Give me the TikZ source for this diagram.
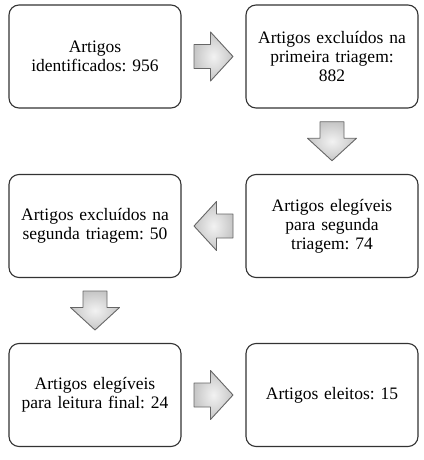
\documentclass[tikz,border=0pt]{standalone}
\usepackage{fontspec}
\setmainfont{Liberation Serif}
\usetikzlibrary{calc}
\frenchspacing
\tikzset{
  box/.style={draw=black!80, line width=1.1pt, rounded corners=10pt, fill=white,
    minimum width=172pt, minimum height=103pt, text width=160pt, align=center,
    inner sep=0pt, font=\fontsize{17.5}{19}\selectfont},
  pics/blockarrow/.style={code={
    \path[inner color=gray!10, outer color=gray!45, draw=black!60, line width=0.9pt, line join=round]
      (-19.5,-12) -- (-3,-12) -- (-3,-24.5) -- (19.5,0) -- (-3,24.5) -- (-3,12) -- (-19.5,12) -- cycle;
  }}
}
\begin{document}
\begin{tikzpicture}[x=1pt,y=-1pt]
\useasboundingbox (0,0) rectangle (423,460);
\node[box] (b1) at (95,56.5) {Artigos\\identificados: 956};
\node[box] (b2) at (332,56.5) {Artigos excluídos na\\primeira triagem:\\882};
\node[box] (b3) at (95,226) {Artigos excluídos na\\segunda triagem: 50};
\node[box] (b4) at (332,226) {Artigos elegíveis\\para segunda\\triagem: 74};
\node[box] (b5) at (95,395) {Artigos elegíveis\\para leitura final: 24};
\node[box] (b6) at (332,395) {Artigos eleitos: 15};
\coordinate (a1) at ($(b1.east)!0.5!(b2.west)$);
\coordinate (a2) at ($(b2.south)!0.5!(b4.north)$);
\coordinate (a3) at ($(b4.west)!0.5!(b3.east)$);
\coordinate (a4) at ($(b3.south)!0.5!(b5.north)$);
\coordinate (a5) at ($(b5.east)!0.5!(b6.west)$);
\pic at (a1) {blockarrow};
\pic[rotate=-90] at (a2) {blockarrow};
\pic[rotate=180] at (a3) {blockarrow};
\pic[rotate=-90] at (a4) {blockarrow};
\pic at (a5) {blockarrow};
\end{tikzpicture}
\end{document}
